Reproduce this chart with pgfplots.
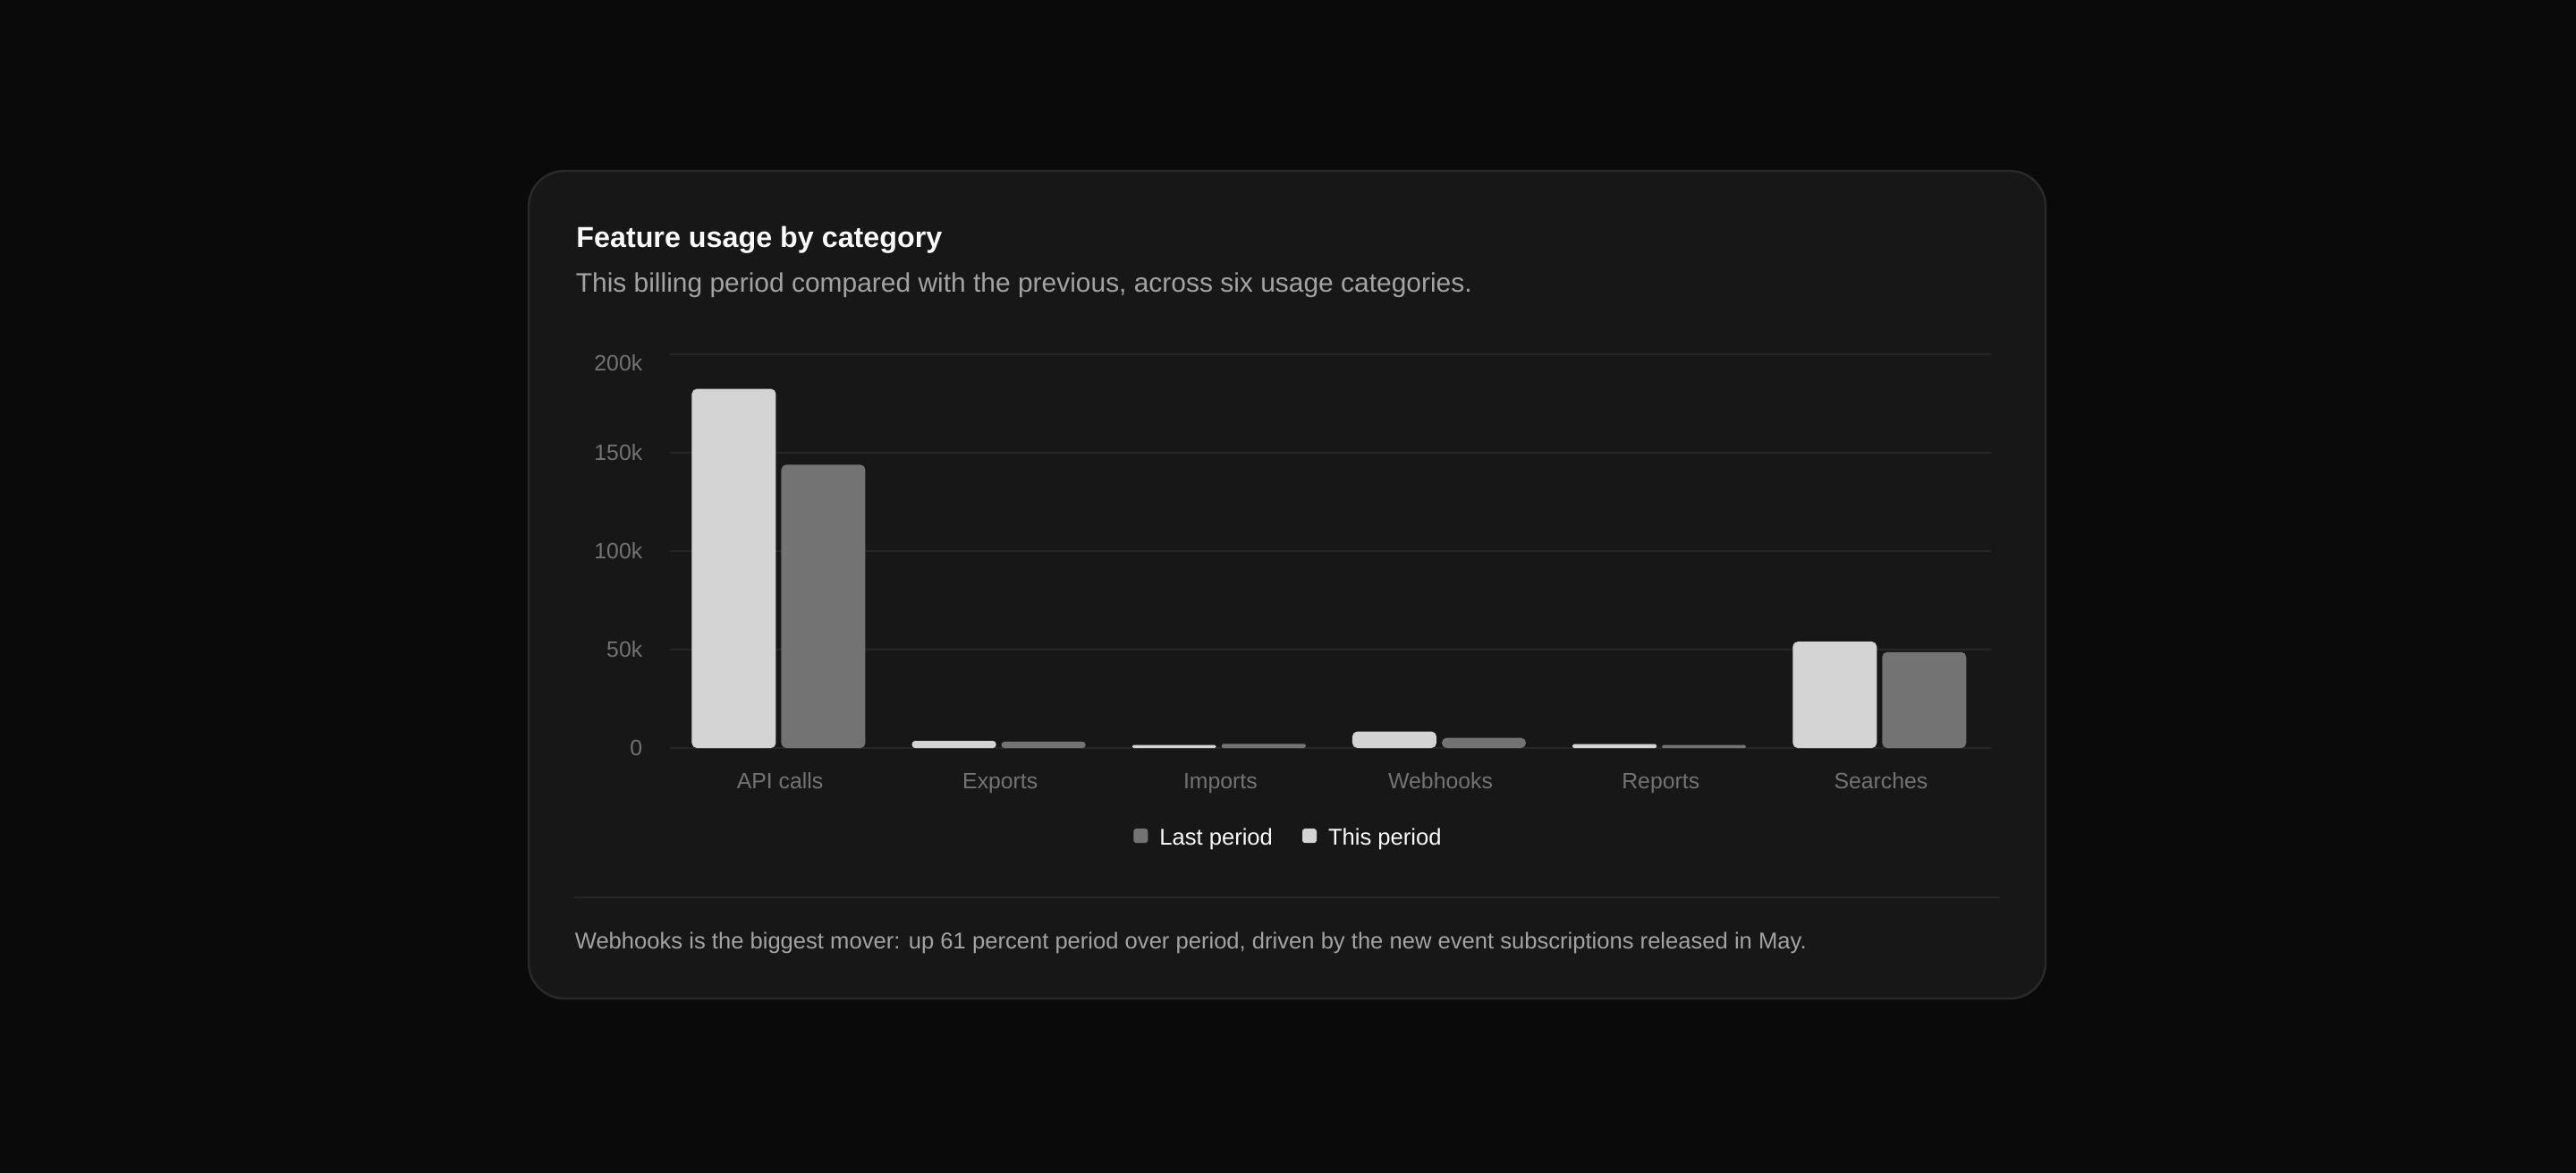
\documentclass[border=0pt]{standalone}
\usepackage{fontspec}
\setmainfont{Liberation Sans}
\usepackage{pgfplots}
\pgfplotsset{compat=1.18}
\definecolor{bgc}{HTML}{0A0A0A}
\definecolor{cardc}{HTML}{171717}
\definecolor{borderc}{HTML}{2A2A2A}
\definecolor{titlec}{HTML}{FAFAFA}
\definecolor{subc}{HTML}{A3A3A3}
\definecolor{tickc}{HTML}{737373}
\definecolor{gridc}{HTML}{262626}
\definecolor{thisc}{HTML}{D4D4D4}
\definecolor{lastc}{HTML}{737373}
\newlength\fitlen
\newcommand\fitw[2]{\begingroup\fontsize{10pt}{12pt}\selectfont\settowidth\fitlen{#2}%
  \pgfmathsetmacro\fitfs{10*#1/\fitlen}%
  \fontsize{\fitfs pt}{\fitfs pt}\selectfont #2\endgroup}
\pgfplotsset{
  thisbar/.style={ybar, bar width=23.5pt, bar shift=-12.9pt, fill=thisc, draw=none,
    legend image code/.code={\fill[thisc, rounded corners=0.75pt] (0pt,-1.1pt) rectangle (4pt,2.9pt);}},
  lastbar/.style={ybar, bar width=23.5pt, bar shift=12.1pt, fill=lastc, draw=none,
    legend image code/.code={\fill[lastc, rounded corners=0.75pt] (0pt,-1.1pt) rectangle (4pt,2.9pt);}},
}
\begin{document}
\begin{tikzpicture}[x=1pt,y=1pt]
\path[use as bounding box] (0,0) rectangle (720,-327.5);
\fill[bgc] (-2,2) rectangle (722,-330);
\filldraw[fill=cardc, draw=borderc, line width=0.6pt, rounded corners=10pt] (147.75,-47.75) rectangle (571.75,-279);
\node[anchor=base west, inner sep=0pt, text=titlec, font=\bfseries] at (160.9,-69.2) {\fitw{102.25}{Feature usage by category}};
\node[anchor=base west, inner sep=0pt, text=subc] at (160.75,-81.7) {\fitw{250.5}{This billing period compared with the previous, across six usage categories.}};
\draw[gridc, line width=0.5pt] (160.5,-250.7) -- (559,-250.7);
\node[anchor=base west, inner sep=0pt, text=subc] at (160.5,-265) {\fitw{344.25}{Webhooks is the biggest mover: up 61 percent period over period, driven by the new event subscriptions released in May.}};
\begin{axis}[
  at={(187.25pt,-209pt)}, anchor=south west,
  scale only axis, width=369.25pt, height=110.1pt,
  xmin=-0.5, xmax=5.5, ymin=0, ymax=200000,
  axis line style={draw=none}, major tick length=0pt,
  tick style={draw=none},
  ymajorgrids, grid style={gridc, line width=0.5pt},
  scaled y ticks=false,
  xtick={0,1,2,3,4,5},
  xticklabels={API calls, Exports, Imports, Webhooks, Reports, Searches},
  ytick={0,50000,100000,150000,200000},
  yticklabels={0,50k,100k,150k,{\raisebox{-2.5pt}[\height][0pt]{200k}}},
  /pgf/number format/assume math mode=true,
  tick label style={font=\fontsize{6.2pt}{7pt}\selectfont, text=tickc},
  xticklabel style={anchor=base, inner sep=0pt, yshift=-11.25pt},
  yticklabel style={anchor=east, inner sep=0pt, xshift=-7.5pt},
  legend columns=2, reverse legend,
  legend style={at={(0.4675,-0.231)}, anchor=center, draw=none, fill=none,
    inner sep=0pt, column sep=0pt,
    nodes={inner sep=0pt, text=titlec, font=\fontsize{6.4pt}{7.5pt}\selectfont},
    /tikz/every odd column/.append style={column sep=3.25pt},
    /tikz/every even column/.append style={column sep=8.25pt}},
]
% This period
\addplot[thisbar, rounded corners=1.4pt] coordinates {(0,182300) (3,8400) (5,54000)};
\addlegendentry{This period}
\addplot[thisbar, rounded corners=0.85pt, forget plot] coordinates {(1,3600)};
\addplot[thisbar, rounded corners=0.4pt, forget plot] coordinates {(2,1500) (4,2000)};
% Last period
\addplot[lastbar, rounded corners=1.4pt] coordinates {(0,143800) (3,5200) (5,48700)};
\addlegendentry{Last period}
\addplot[lastbar, rounded corners=0.8pt, forget plot] coordinates {(1,3200)};
\addplot[lastbar, rounded corners=0.4pt, forget plot] coordinates {(2,2100) (4,1500)};
\end{axis}
\end{tikzpicture}
\end{document}
